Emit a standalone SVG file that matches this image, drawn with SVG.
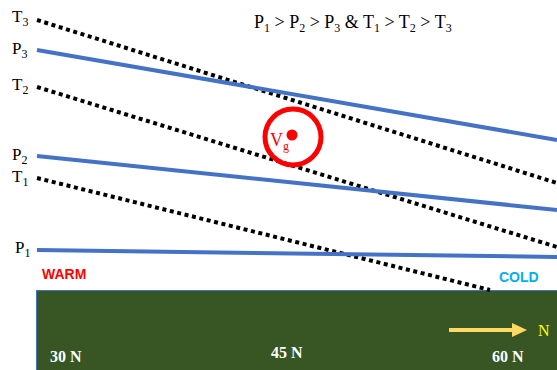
<svg xmlns="http://www.w3.org/2000/svg" width="557" height="370" viewBox="0 0 557 370">
<style>
.lbl{font-family:"Liberation Serif",serif;font-size:17px;fill:#000}
.sub{font-size:12px}
.top{font-size:18px}
.iso{stroke:#4472C4;stroke-width:4;fill:none}
.th{stroke:#000;stroke-width:4;fill:none;stroke-dasharray:4 3.6}
.lat{font-family:"Liberation Serif",serif;font-size:16px;font-weight:bold;fill:#fff}
</style>
<rect width="557" height="370" fill="#fff"/>
<g id="ground">
<rect x="36.5" y="290.5" width="522" height="82" fill="#375623" stroke="#4472C4" stroke-width="1"/>
</g>
<g id="connectors">
<line class="th" x1="37" y1="20" x2="557" y2="183"/>
<line class="iso" x1="37" y1="50" x2="557" y2="140"/>
<line class="th" x1="37" y1="87" x2="557" y2="247"/>
<line class="iso" x1="37" y1="156" x2="557" y2="210"/>
<line class="th" x1="37" y1="178" x2="490" y2="290"/>
<line class="iso" x1="37" y1="250" x2="557" y2="257"/>
</g>
<g id="labels">
<text class="lbl" x="12" y="22">T<tspan class="sub" dy="4">3</tspan></text>
<text class="lbl" x="12" y="54">P<tspan class="sub" dy="4">3</tspan></text>
<text class="lbl" x="12" y="90">T<tspan class="sub" dy="4">2</tspan></text>
<text class="lbl" x="12" y="160">P<tspan class="sub" dy="4">2</tspan></text>
<text class="lbl" x="12" y="182">T<tspan class="sub" dy="4">1</tspan></text>
<text class="lbl" x="15" y="253">P<tspan class="sub" dy="4">1</tspan></text>
<text class="lbl top" x="254" y="28">P<tspan class="sub" dy="4">1</tspan><tspan dy="-4"> &gt; P</tspan><tspan class="sub" dy="4">2</tspan><tspan dy="-4"> &gt; P</tspan><tspan class="sub" dy="4">3</tspan><tspan dy="-4"> &amp; T</tspan><tspan class="sub" dy="4">1</tspan><tspan dy="-4"> &gt; T</tspan><tspan class="sub" dy="4">2</tspan><tspan dy="-4"> &gt; T</tspan><tspan class="sub" dy="4">3</tspan></text>
</g>
<g id="vg">
<circle cx="293" cy="137" r="28" fill="none" stroke="#FF0000" stroke-width="5"/>
<circle cx="292" cy="135" r="5.5" fill="#FF0000"/>
<text x="270" y="146" font-family="Liberation Serif,serif" font-size="18" fill="#FF0000">V<tspan font-size="12" dy="4">g</tspan></text>
</g>
<g id="warm"><text x="42" y="279" font-family="Liberation Sans,sans-serif" font-size="14" font-weight="bold" fill="#FF0000">WARM</text></g>
<g id="cold"><text x="499" y="282" font-family="Liberation Sans,sans-serif" font-size="14" font-weight="bold" fill="#00B0F0">COLD</text></g>
<g id="lats">
<text class="lat" x="50" y="362">30 N</text>
<text class="lat" x="271" y="358">45 N</text>
<text class="lat" x="492" y="362">60 N</text>
</g>
<g id="north">
<line x1="449" y1="330" x2="514" y2="330" stroke="#FFD966" stroke-width="4"/>
<polygon points="512,323 527,330 512,337" fill="#FFD966"/>
<text x="538" y="336" font-family="Liberation Serif,serif" font-size="16" fill="#FFFF00">N</text>
</g>
</svg>
